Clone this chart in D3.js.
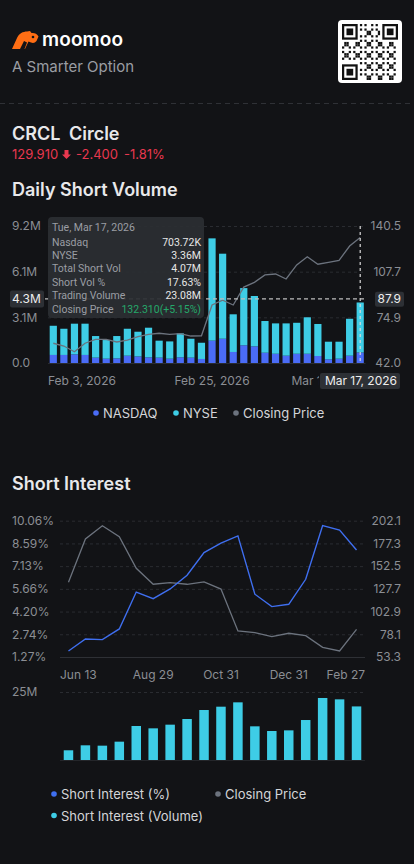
<!DOCTYPE html>
<html>
<head>
<meta charset="utf-8">
<script src="https://cdn.jsdelivr.net/npm/d3@7"></script>
<style>
html, body { margin: 0; padding: 0; background: #121316; }
svg { display: block; font-family: Inter, "Noto Sans", sans-serif; }
</style>
</head>
<body>
<div id="chart"></div>
<script>
// Page size
var svgWidth = 414;
var svgHeight = 864;

// ---- Daily short volume data (millions) ----
var dailyDates = ["Feb 3, 2026", "Feb 4, 2026", "Feb 5, 2026", "Feb 6, 2026", "Feb 9, 2026", "Feb 10, 2026",
    "Feb 11, 2026", "Feb 12, 2026", "Feb 13, 2026", "Feb 17, 2026", "Feb 18, 2026", "Feb 19, 2026",
    "Feb 20, 2026", "Feb 23, 2026", "Feb 24, 2026", "Feb 25, 2026", "Feb 26, 2026", "Feb 27, 2026",
    "Mar 2, 2026", "Mar 3, 2026", "Mar 4, 2026", "Mar 5, 2026", "Mar 6, 2026", "Mar 9, 2026",
    "Mar 10, 2026", "Mar 11, 2026", "Mar 12, 2026", "Mar 13, 2026", "Mar 16, 2026", "Mar 17, 2026"];
var nasdaqVol = [0.54, 0.54, 0.58, 0.54, 0.36, 0.29, 0.31, 0.49, 0.44, 0.38, 0.36, 0.29, 0.38, 0.36, 0.27,
    1.50, 1.63, 0.74, 1.19, 1.12, 0.69, 0.62, 0.49, 0.62, 0.62, 0.47, 0.25, 0.29, 0.49, 0.70372];
var nyseVol = [1.96, 1.76, 2.06, 2.10, 1.45, 1.25, 1.50, 1.81, 1.66, 1.99, 1.14, 1.16, 1.61, 1.27, 1.09,
    6.87, 5.71, 2.53, 3.84, 3.38, 2.13, 2.04, 2.17, 2.08, 2.45, 2.15, 1.18, 1.14, 2.48, 3.36];
var dailyClose = [56.2, 54.2, 50.1, 56.2, 59.0, 59.0, 57.1, 58.5, 60.9, 62.6, 63.4, 62.6, 63.1, 61.4, 61.6,
    83.7, 87.1, 83.7, 96.6, 100.0, 105.3, 106.0, 102.4, 112.5, 118.4, 113.0, 114.4, 115.8, 126.1, 132.31];
var dailyTickIdx = [0, 15, 26];
var volTicks = [0, 3.0667, 6.1333, 9.2];
var volTickLabels = ["0.0", "3.1M", "6.1M", "9.2M"];
var priceTicks = [42.0, 74.83, 107.67, 140.5];
var priceTickLabels = ["42.0", "74.9", "107.7", "140.5"];

// Tooltip / crosshair for the last day
var selectedIdx = 29;
var crossVol = 4.3;
var crossPrice = 87.9;
var tooltipTitle = "Tue, Mar 17, 2026";
var tooltipRows = [
    ["Nasdaq", "703.72K"],
    ["NYSE", "3.36M"],
    ["Total Short Vol", "4.07M"],
    ["Short Vol %", "17.63%"],
    ["Trading Volume", "23.08M"],
    ["Closing Price", "132.310(+5.15%)"]
];

// ---- Short interest data ----
var siDates = ["Jun 13", "Jun 30", "Jul 15", "Jul 31", "Aug 15", "Aug 29", "Sep 15", "Sep 30", "Oct 15",
    "Oct 31", "Nov 14", "Nov 28", "Dec 15", "Dec 31", "Jan 15", "Jan 30", "Feb 13", "Feb 27"];
var siPercent = [1.66, 2.43, 2.39, 3.08, 5.46, 5.03, 5.66, 6.54, 8.00, 8.61, 9.08, 5.32, 4.52, 4.67, 6.28, 9.74, 9.46, 8.17];
var siClose = [134.8, 182.1, 196.6, 184.6, 150.1, 132.7, 134.4, 132.7, 135.2, 127.5, 81.7, 79.8, 75.5, 79.2, 76.6, 63.9, 59.9, 83.5];
var siVolume = [3.57, 5.40, 5.27, 6.74, 12.5, 11.64, 12.99, 15.07, 18.38, 19.6, 21.2, 12.38, 10.66, 10.9, 14.7, 22.8, 22.3, 19.7];
var siTickIdx = [0, 5, 9, 13, 17];
var pctTicks = [1.27, 2.735, 4.20, 5.665, 7.13, 8.595, 10.06];
var pctTickLabels = ["1.27%", "2.74%", "4.20%", "5.66%", "7.13%", "8.59%", "10.06%"];
var siPriceTicks = [53.3, 78.1, 102.9, 127.7, 152.5, 177.3, 202.1];
var siPriceTickLabels = ["53.3", "78.1", "102.9", "127.7", "152.5", "177.3", "202.1"];
var siVolTicks = [25];
var siVolTickLabels = ["25M"];

// Colours
var cNasdaq = "#4a6cf6";
var cNyse = "#3ecde6";
var cClose = "#6c737e";
var cPct = "#3f6ff0";
var cAxis = "#8b8e94";
var cGrid = "#2a2c31";

var svg = d3.select("#chart")
    .append("svg")
    .attr("width", svgWidth)
    .attr("height", svgHeight);

svg.append("rect").attr("width", svgWidth).attr("height", svgHeight).attr("fill", "#121316");

// ---------------- Header ----------------
var header = svg.append("g");
// logo icon (rough bull head)
header.append("path")
    .attr("d", "M12,49 L17,38 C19,33.5 23,31.5 27,31.5 L30,31 L31.5,33 C34,32.5 37,33.5 38.5,36.5 L36.5,41 C35,43 33,43.5 31,42.5 L28.5,41.5 L25,49 Z")
    .attr("fill", "#ff6e14");
header.append("path")
    .attr("d", "M20,49 L24,41 L27,42.5 L24.5,49 Z")
    .attr("fill", "#121316");
header.append("circle").attr("cx", 33).attr("cy", 37).attr("r", 1.3).attr("fill", "#121316");
header.append("text")
    .attr("x", 42).attr("y", 46)
    .attr("fill", "#ffffff")
    .style("font-size", "19px").style("font-weight", "600")
    .attr("textLength", 81)
    .text("moomoo");
header.append("text")
    .attr("x", 12).attr("y", 72)
    .attr("fill", "#9a9da3")
    .style("font-size", "15px")
    .text("A Smarter Option");

// QR code box (decorative)
header.append("rect")
    .attr("x", 338).attr("y", 20).attr("width", 64).attr("height", 63).attr("rx", 4)
    .attr("fill", "#ffffff");
var qr = header.append("g").attr("transform", "translate(342,24)");
var qrN = 25, qrM = 2.24;
function inFinder(i, j) {
    return (i < 8 && j < 8) || (i > qrN - 9 && j < 8) || (i < 8 && j > qrN - 9);
}
for (var i = 0; i < qrN; i++) {
    for (var j = 0; j < qrN; j++) {
        if (inFinder(i, j)) continue;
        if (((i * 7 + j * 13 + i * j * 3) % 5) < 2) {
            qr.append("rect").attr("x", i * qrM).attr("y", j * qrM).attr("width", qrM).attr("height", qrM).attr("fill", "#111");
        }
    }
}
[[0, 0], [qrN - 7, 0], [0, qrN - 7]].forEach(function (p) {
    qr.append("rect").attr("x", p[0] * qrM + qrM / 2).attr("y", p[1] * qrM + qrM / 2)
        .attr("width", qrM * 6).attr("height", qrM * 6).attr("fill", "none").attr("stroke", "#111").attr("stroke-width", qrM);
    qr.append("rect").attr("x", (p[0] + 2) * qrM).attr("y", (p[1] + 2) * qrM)
        .attr("width", qrM * 3).attr("height", qrM * 3).attr("fill", "#111");
});

svg.append("line")
    .attr("x1", 0).attr("x2", svgWidth).attr("y1", 103.5).attr("y2", 103.5)
    .attr("stroke", "#2f3136").attr("stroke-dasharray", "5,4");

// ---------------- Ticker ----------------
var tick = svg.append("text").attr("x", 12).attr("y", 140)
    .attr("fill", "#e8e8ea").style("font-size", "18px").style("font-weight", "600");
tick.append("tspan").text("CRCL");
tick.append("tspan").attr("dx", 9).text("Circle");

var quote = svg.append("g").attr("fill", "#e8384f").style("font-size", "13px");
quote.append("text").attr("x", 12).attr("y", 159).text("129.910");
quote.append("path").attr("d", "M64.5,150 h4 v4.5 h2.5 l-4.5,4.5 l-4.5,-4.5 h2.5 z");
quote.append("text").attr("x", 76).attr("y", 159).text("-2.400");
quote.append("text").attr("x", 124).attr("y", 159).text("-1.81%");

svg.append("text").attr("x", 12).attr("y", 196)
    .attr("fill", "#e8e8ea").style("font-size", "18px").style("font-weight", "600")
    .text("Daily Short Volume");

// ---------------- Daily short volume chart ----------------
var plot1 = { left: 48, right: 365.5, top: 226, bottom: 363 };

var xDaily = d3.scaleBand()
    .domain(dailyDates)
    .range([plot1.left, plot1.right])
    .paddingInner(0.32)
    .paddingOuter(0.16);
var yVol = d3.scaleLinear().domain([0, 9.2]).range([plot1.bottom, plot1.top]);
var yPrice = d3.scaleLinear().domain([42, 140.5]).range([plot1.bottom, plot1.top]);

function drawGrid(scale, values, x1, x2) {
    svg.append("g")
        .attr("transform", `translate(${x1},0)`)
        .call(d3.axisLeft(scale).tickValues(values).tickSize(-(x2 - x1)).tickFormat(""))
        .call(g => g.select(".domain").remove())
        .call(g => g.selectAll("line").attr("stroke", cGrid).attr("stroke-dasharray", "3,3"));
}
function drawLeftLabels(scale, values, labels, x) {
    svg.append("g")
        .attr("transform", `translate(${x},0)`)
        .call(d3.axisLeft(scale).tickValues(values).tickSize(0).tickPadding(0).tickFormat((d, i) => labels[i]))
        .call(g => g.select(".domain").remove())
        .call(g => g.selectAll("text").attr("text-anchor", "start").attr("fill", cAxis)
            .style("font-size", "12px").style("font-family", "Inter, 'Noto Sans', sans-serif"));
}
function drawRightLabels(scale, values, labels, x) {
    svg.append("g")
        .attr("transform", `translate(${x},0)`)
        .call(d3.axisRight(scale).tickValues(values).tickSize(0).tickPadding(0).tickFormat((d, i) => labels[i]))
        .call(g => g.select(".domain").remove())
        .call(g => g.selectAll("text").attr("text-anchor", "end").attr("fill", cAxis)
            .style("font-size", "12px").style("font-family", "Inter, 'Noto Sans', sans-serif"));
}

drawGrid(yVol, volTicks.slice(1), plot1.left, plot1.right);
svg.append("line").attr("x1", plot1.left).attr("x2", plot1.right)
    .attr("y1", plot1.bottom + 0.5).attr("y2", plot1.bottom + 0.5).attr("stroke", cGrid);
drawLeftLabels(yVol, volTicks, volTickLabels, 12);
drawRightLabels(yPrice, priceTicks, priceTickLabels, 401);

// stacked bars
var dailyRows = dailyDates.map((d, i) => ({ date: d, nasdaq: nasdaqVol[i], nyse: nyseVol[i] }));
var stacked = d3.stack().keys(["nasdaq", "nyse"])(dailyRows);
var stackColor = { nasdaq: cNasdaq, nyse: cNyse };

svg.append("g").selectAll("g")
    .data(stacked)
    .enter()
    .append("g")
    .attr("fill", d => stackColor[d.key])
    .selectAll("rect")
    .data(d => d)
    .enter()
    .append("rect")
    .attr("x", d => xDaily(d.data.date))
    .attr("width", xDaily.bandwidth())
    .attr("y", d => yVol(d[1]))
    .attr("height", d => yVol(d[0]) - yVol(d[1]));

var closeLine = d3.line()
    .x((d, i) => xDaily(dailyDates[i]) + xDaily.bandwidth() / 2)
    .y(d => yPrice(d));
svg.append("path")
    .datum(dailyClose)
    .attr("d", closeLine)
    .attr("fill", "none")
    .attr("stroke", cClose)
    .attr("stroke-width", 1.3);

// x labels (the middle one is partly hidden behind the selected-date box)
svg.append("clipPath").attr("id", "xlabClip")
    .append("rect").attr("x", 0).attr("y", 360).attr("width", 319).attr("height", 40);
var xLab1 = svg.append("g").attr("fill", cAxis).style("font-size", "12px").attr("clip-path", "url(#xlabClip)");
dailyTickIdx.forEach(function (idx, k) {
    var cx = xDaily(dailyDates[idx]) + xDaily.bandwidth() / 2;
    xLab1.append("text")
        .attr("x", k === 0 ? plot1.left : cx)
        .attr("y", 385)
        .attr("text-anchor", k === 0 ? "start" : "middle")
        .text(dailyDates[idx]);
});

// crosshair
var selX = xDaily(dailyDates[selectedIdx]) + xDaily.bandwidth() / 2;
svg.append("line")
    .attr("x1", selX).attr("x2", selX).attr("y1", plot1.top).attr("y2", plot1.bottom)
    .attr("stroke", "#d9d9d9").attr("stroke-dasharray", "3,3").attr("stroke-width", 1.2);
svg.append("line")
    .attr("x1", 45).attr("x2", plot1.right).attr("y1", yVol(crossVol)).attr("y2", yVol(crossVol))
    .attr("stroke", "#bdbdbd").attr("stroke-dasharray", "4,3").attr("stroke-width", 1.2);

function labelBox(x, y, w, h, text, anchorX, anchor) {
    svg.append("rect").attr("x", x).attr("y", y).attr("width", w).attr("height", h).attr("rx", 2)
        .attr("fill", "#2d3035");
    svg.append("text").attr("x", anchorX).attr("y", y + h / 2 + 4)
        .attr("text-anchor", anchor).attr("fill", "#ededed").style("font-size", "12px").text(text);
}
labelBox(10, yVol(crossVol) - 8.5, 34, 17, crossVol.toFixed(1) + "M", 12, "start");
labelBox(375, yPrice(crossPrice) - 7.5, 29, 15, crossPrice.toFixed(1), 401, "end");
labelBox(320, 373, 80, 16, dailyDates[selectedIdx], 397, "end");

// tooltip
var tip = svg.append("g").style("font-family", "Roboto, 'Noto Sans', sans-serif").style("font-size", "10.5px");
tip.append("rect")
    .attr("x", 48).attr("y", 217).attr("width", 156).attr("height", 101).attr("rx", 4)
    .attr("fill", "#2b2e33").attr("fill-opacity", 0.93);
tip.append("text").attr("x", 52).attr("y", 231).attr("fill", "#9b9ea4").text(tooltipTitle);
tooltipRows.forEach(function (r, i) {
    var yy = 245.5 + i * 13.4;
    tip.append("text").attr("x", 52).attr("y", yy).attr("fill", "#9b9ea4").text(r[0]);
    tip.append("text").attr("x", 201).attr("y", yy).attr("text-anchor", "end")
        .attr("fill", i === tooltipRows.length - 1 ? "#25a86a" : "#e6e6e6")
        .text(r[1]);
});

// legend 1
var legend1 = [
    { label: "NASDAQ", color: cNasdaq, x: 96 },
    { label: "NYSE", color: cNyse, x: 176 },
    { label: "Closing Price", color: cClose, x: 236 }
];
var lg1 = svg.append("g");
legend1.forEach(function (l) {
    lg1.append("circle").attr("cx", l.x).attr("cy", 413).attr("r", 2.8).attr("fill", l.color);
    lg1.append("text").attr("x", l.x + 7).attr("y", 418).attr("fill", "#d4d5d8").style("font-size", "13px").text(l.label);
});

// ---------------- Short interest ----------------
svg.append("text").attr("x", 12).attr("y", 490)
    .attr("fill", "#e8e8ea").style("font-size", "18px").style("font-weight", "600")
    .text("Short Interest");

var plot2 = { left: 60, right: 365, top: 520.7, bottom: 657 };
var xSi = d3.scaleBand()
    .domain(siDates)
    .range([plot2.left, plot2.right])
    .paddingInner(0.44)
    .paddingOuter(0.22);
var yPct = d3.scaleLinear().domain([1.27, 10.06]).range([plot2.bottom, plot2.top]);
var ySiPrice = d3.scaleLinear().domain([53.3, 202.1]).range([plot2.bottom, plot2.top]);

drawGrid(yPct, pctTicks.slice(1), plot2.left, plot2.right);
svg.append("line").attr("x1", plot2.left).attr("x2", plot2.right)
    .attr("y1", plot2.bottom + 0.5).attr("y2", plot2.bottom + 0.5).attr("stroke", "#2e3035");
drawLeftLabels(yPct, pctTicks, pctTickLabels, 12);
drawRightLabels(ySiPrice, siPriceTicks, siPriceTickLabels, 401);

var siCx = d => xSi(d) + xSi.bandwidth() / 2;
svg.append("path")
    .datum(siClose)
    .attr("d", d3.line().x((d, i) => siCx(siDates[i])).y(d => ySiPrice(d)))
    .attr("fill", "none").attr("stroke", cClose).attr("stroke-width", 1.3);
svg.append("path")
    .datum(siPercent)
    .attr("d", d3.line().x((d, i) => siCx(siDates[i])).y(d => yPct(d)))
    .attr("fill", "none").attr("stroke", cPct).attr("stroke-width", 1.4);

var xLab2 = svg.append("g").attr("fill", cAxis).style("font-size", "12px");
siTickIdx.forEach(function (idx, k) {
    var first = k === 0, last = k === siTickIdx.length - 1;
    xLab2.append("text")
        .attr("x", first ? plot2.left : last ? plot2.right : siCx(siDates[idx]))
        .attr("y", 679)
        .attr("text-anchor", first ? "start" : last ? "end" : "middle")
        .text(siDates[idx]);
});

// volume bars
var plot3 = { top: 692, bottom: 760 };
var ySiVol = d3.scaleLinear().domain([0, 25]).range([plot3.bottom, plot3.top]);
drawGrid(ySiVol, siVolTicks, plot2.left, plot2.right);
svg.append("line").attr("x1", plot2.left).attr("x2", plot2.right)
    .attr("y1", plot3.bottom + 0.5).attr("y2", plot3.bottom + 0.5).attr("stroke", "#24262a");
drawLeftLabels(ySiVol, siVolTicks, siVolTickLabels, 12);

svg.append("g").selectAll("rect")
    .data(siVolume)
    .enter()
    .append("rect")
    .attr("x", (d, i) => xSi(siDates[i]))
    .attr("width", xSi.bandwidth())
    .attr("y", d => ySiVol(d))
    .attr("height", d => ySiVol(0) - ySiVol(d))
    .attr("fill", cNyse);

// legend 2
var legend2 = [
    { label: "Short Interest (%)", color: cPct, x: 54, y: 794 },
    { label: "Closing Price", color: cClose, x: 218, y: 794 },
    { label: "Short Interest (Volume)", color: cNyse, x: 54, y: 815.5 }
];
var lg2 = svg.append("g");
legend2.forEach(function (l) {
    lg2.append("circle").attr("cx", l.x).attr("cy", l.y).attr("r", 2.8).attr("fill", l.color);
    lg2.append("text").attr("x", l.x + 7).attr("y", l.y + 5).attr("fill", "#d4d5d8").style("font-size", "13px").text(l.label);
});
</script>
</body>
</html>
